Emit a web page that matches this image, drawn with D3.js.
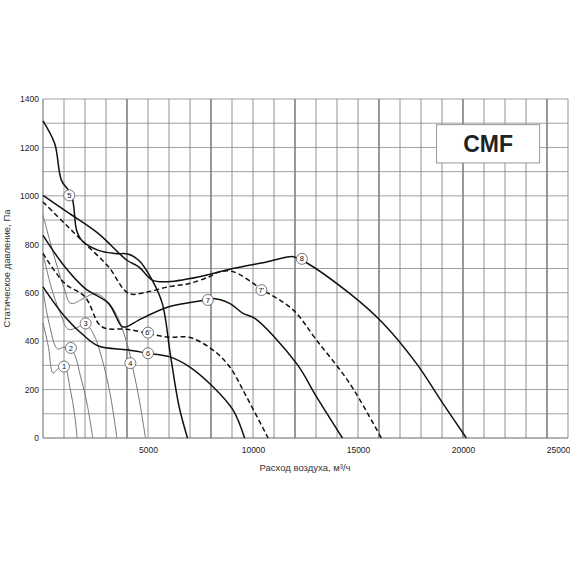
<!DOCTYPE html>
<html><head><meta charset="utf-8">
<script src="https://cdn.jsdelivr.net/npm/d3@7"></script>
<style>body{margin:0;background:#fff}text{font-family:Arial,"Liberation Sans",sans-serif}</style>
</head><body><div id="chart"></div>
<script>
// curves: [flow m3/h, pressure Pa]
const curve1 = [[0,475],[250,380],[480,268],[700,285],[1000,300],[1300,200],[1500,100],[1630,0]]
const curve2 = [[0,610],[300,470],[690,368],[1000,375],[1400,360],[1800,250],[2100,140],[2370,0]]
const curve3 = [[0,760],[400,620],[800,520],[1200,449],[1600,455],[2000,472],[2400,430],[2800,330],[3200,180],[3520,0]]
const curve4 = [[0,920],[500,760],[1000,620],[1330,556],[2000,580],[2500,597],[3000,570],[3500,510],[4000,390],[4300,280],[4600,150],[4880,0]]
const curve5 = [[0,1310],[560,1215],[880,1064],[1360,1002],[1600,858],[1840,817],[2640,775],[3440,762],[4080,759],[4560,734],[5200,652],[5680,556],[6080,336],[6480,130],[6880,0]]
const curve6 = [[0,624],[1040,501],[2000,419],[2640,380],[4000,364],[5000,350],[6000,336],[6960,295],[8080,213],[9040,117],[9600,0]]
const curve6d = [[0,762],[1040,638],[2000,583],[2640,473],[2960,453],[4000,449],[5000,432],[6000,416],[6960,416],[8080,364],[8880,295],[9680,172],[10720,0]]
const curve7 = [[0,837],[1040,707],[2000,618],[3120,556],[3760,460],[4000,460],[4560,487],[6000,542],[7760,570],[8080,576],[8880,556],[9520,515],[10090,494],[12070,308],[13020,171],[14260,0]]
const curve7d = [[0,975],[1040,885],[2000,803],[3120,707],[4080,597],[5000,604],[6000,625],[6960,638],[7920,666],[8400,686],[9050,687],[10480,611],[11910,529],[13020,405],[14600,226],[16110,0]]
const curve8 = [[0,1002],[1040,940],[2640,844],[4000,734],[4560,707],[5200,652],[5840,645],[7440,666],[9040,700],[10640,727],[11910,749],[12380,732],[14600,597],[16190,474],[17780,308],[19040,143],[20160,0]]

const series = [
  { name: '1', pts: curve1, kind: 'thin', label: [1000, 295] },
  { name: '2', pts: curve2, kind: 'thin', label: [1330, 372] },
  { name: '3', pts: curve3, kind: 'thin', label: [2030, 473] },
  { name: '4', pts: curve4, kind: 'thin', label: [4160, 309] },
  { name: '5', pts: curve5, kind: 'bold', label: [1250, 1002] },
  { name: '6', pts: curve6, kind: 'bold', label: [5000, 350] },
  { name: "6'", pts: curve6d, kind: 'dash', label: [5000, 435] },
  { name: '7', pts: curve7, kind: 'bold', label: [7850, 570] },
  { name: "7'", pts: curve7d, kind: 'dash', label: [10400, 611] },
  { name: '8', pts: curve8, kind: 'bold', label: [12330, 740] }
]
const xTicks = [5000, 10000, 15000, 20000, 25000]
const yTicks = [0, 200, 400, 600, 800, 1000, 1200, 1400]

const W = 570, H = 570
const margin = { top: 99, left: 43, right: 2, bottom: 132 }
const x = d3.scaleLinear().domain([0, 25000]).range([margin.left, W - margin.right])
const y = d3.scaleLinear().domain([0, 1400]).range([H - margin.bottom, margin.top])

const svg = d3.select('#chart').append('svg').attr('width', W).attr('height', H)

// grid
const g = svg.append('g')
g.selectAll('.vg').data(d3.range(1000, 25001, 1000)).enter().append('line')
  .attr('x1', d => x(d)).attr('x2', d => x(d)).attr('y1', y(0)).attr('y2', y(1400))
  .attr('stroke', d => d % 4000 === 0 ? '#444' : '#777').attr('stroke-width', d => d % 4000 === 0 ? 1.1 : 0.8)
g.selectAll('.hg').data(d3.range(100, 1401, 100)).enter().append('line')
  .attr('x1', x(0)).attr('x2', x(25000)).attr('y1', d => y(d)).attr('y2', d => y(d))
  .attr('stroke', '#888').attr('stroke-width', 0.8)
g.append('line').attr('x1', x(0)).attr('x2', x(0)).attr('y1', y(0)).attr('y2', y(1400)).attr('stroke', '#666')
g.append('line').attr('x1', x(0)).attr('x2', x(25000)).attr('y1', y(0)).attr('y2', y(0)).attr('stroke', '#666')

// axes
svg.append('g').attr('transform', `translate(0,${y(0)})`)
  .call(d3.axisBottom(x).tickValues(xTicks).tickSize(0).tickPadding(9).tickFormat(d3.format('d')))
  .call(a => a.select('.domain').remove())
  .selectAll('text').attr('font-size', 8.5).attr('fill', '#222')
  .attr('text-anchor', d => d === 25000 ? 'end' : 'middle')
  .attr('dx', d => d === 25000 ? 2 : 0)
svg.append('g').attr('transform', `translate(${x(0)},0)`)
  .call(d3.axisLeft(y).tickValues(yTicks).tickSize(0).tickPadding(4).tickFormat(d3.format('d')))
  .call(a => a.select('.domain').remove())
  .selectAll('text').attr('font-size', 8.5).attr('fill', '#222')

svg.append('text').attr('x', 305).attr('y', 471).attr('text-anchor', 'middle')
  .attr('font-size', 9.5).attr('fill', '#333').text('Расход воздуха, м³/ч')
svg.append('text').attr('transform', `translate(10,${y(700)}) rotate(-90)`).attr('text-anchor', 'middle')
  .attr('font-size', 9.5).attr('fill', '#333').text('Статическое давление, Па')

// curves
const lineY = d3.line().x(d => x(d[0])).y(d => y(d[1])).curve(d3.curveCatmullRom.alpha(0.5))
svg.selectAll('.curve').data(series).enter().append('path')
  .attr('d', d => lineY(d.pts))
  .attr('fill', 'none')
  .attr('stroke', d => d.kind === 'thin' ? '#777' : '#111')
  .attr('stroke-width', d => d.kind === 'thin' ? 1 : 1.5)
  .attr('stroke-dasharray', d => d.kind === 'dash' ? '5,3' : null)

// labels
const lab = svg.selectAll('.lab').data(series).enter().append('g')
  .attr('transform', d => `translate(${x(d.label[0])},${y(d.label[1])})`)
lab.append('circle').attr('r', 5.5).attr('fill', '#fff').attr('stroke', '#555').attr('stroke-width', 0.8)
lab.append('text').attr('text-anchor', 'middle').attr('dy', '0.35em').attr('font-size', 7.5).attr('fill', '#111').text(d => d.name)

// CMF box
const bx = x(18740), by = y(1294)
svg.append('rect').attr('x', bx).attr('y', by).attr('width', x(23650) - bx).attr('height', y(1136) - by)
  .attr('fill', '#fff').attr('stroke', '#999')
svg.append('text').attr('x', (bx + x(23650)) / 2).attr('y', (by + y(1136)) / 2).attr('dy', '0.36em')
  .attr('text-anchor', 'middle').attr('font-size', 23).attr('font-weight', 'bold').attr('fill', '#222').text('CMF')
</script></body></html>
